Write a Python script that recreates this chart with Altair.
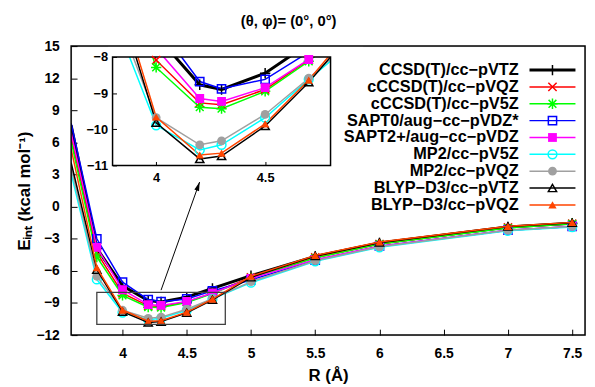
import altair as alt
import pandas as pd

# ---------------- data ----------------
R = [3.6, 3.8, 4.0, 4.2, 4.3, 4.5, 4.7, 5.0, 5.5, 6.0, 7.0, 7.5]

names = [
    "CCSD(T)/cc\u2212pVTZ",
    "cCCSD(T)/cc\u2212pVQZ",
    "cCCSD(T)/cc\u2212pV5Z",
    "SAPT0/aug\u2212cc\u2212pVDZ*",
    "SAPT2+/aug\u2212cc\u2212pVDZ",
    "MP2/cc\u2212pV5Z",
    "MP2/cc\u2212pVQZ",
    "BLYP\u2212D3/cc\u2212pVTZ",
    "BLYP\u2212D3/cc\u2212pVQZ",
]

ccsdt_vtz = [7.6, -3.9, -7.40, -8.77, -8.90, -8.45, -7.63, -6.45, -4.65, -3.40, -1.90, -1.55]
cccsdt_vqz = [6.5, -4.3, -8.09, -9.27, -9.32, -8.90, -8.08, -6.60, -4.75, -3.50, -1.95, -1.60]
cccsdt_v5z = [6.1, -4.7, -8.29, -9.39, -9.43, -8.95, -8.12, -6.65, -4.80, -3.50, -2.00, -1.60]
sapt0_adz = [7.8, -3.0, -7.06, -8.68, -8.88, -8.62, -7.87, -6.85, -5.00, -3.70, -2.20, -1.85]
sapt2p_adz = [6.9, -3.8, -7.76, -9.15, -9.23, -8.85, -8.07, -6.70, -4.95, -3.70, -2.20, -1.85]
mp2_v5z = [3.1, -6.8, -9.89, -10.57, -10.43, -9.68, -8.62, -7.10, -5.10, -3.80, -2.25, -1.90]
mp2_vqz = [3.6, -6.5, -9.68, -10.43, -10.32, -9.59, -8.59, -7.00, -5.05, -3.75, -2.20, -1.85]
blyp_vtz = [4.1, -5.9, -9.82, -10.82, -10.74, -9.91, -8.70, -6.60, -4.60, -3.35, -1.85, -1.50]
blyp_vqz = [5.4, -5.7, -9.66, -10.71, -10.66, -9.85, -8.64, -6.50, -4.55, -3.30, -1.84, -1.47]

series = [ccsdt_vtz, cccsdt_vqz, cccsdt_v5z, sapt0_adz, sapt2p_adz,
          mp2_v5z, mp2_vqz, blyp_vtz, blyp_vqz]

x_ticks = [4, 4.5, 5, 5.5, 6, 6.5, 7, 7.5]
y_ticks = [-12, -9, -6, -3, 0, 3, 6, 9, 12, 15]
inset_x_ticks = [4, 4.5]
inset_y_ticks = [-8, -9, -10, -11]

zoom_box = pd.DataFrame({"R": [3.8], "R2": [4.8], "E": [-11.0], "E2": [-8.0]})
arrow = pd.DataFrame({"R": [4.3], "E": [-7.8], "R2": [4.6], "E2": [2.3]})
mask = pd.DataFrame({"R": [3.78, 4.8], "R2": [4.95, 4.95], "E": [-8.0, -8.6], "E2": [-7.6, -8.0]})

# ---------------- styles ----------------
colors = ["#000000", "#ff0000", "#00ff00", "#0000ff", "#ff00ff",
          "#00ffff", "#a0a0a0", "#000000", "#ff4500"]
widths = [3, 1.5, 1.5, 1.5, 1.5, 1.5, 1.5, 1.5, 1.5]
PLUS = "M-1,0L1,0M0,-1L0,1"
CROSS = "M-0.8,-0.8L0.8,0.8M-0.8,0.8L0.8,-0.8"
STAR = "M-1,0L1,0M0,-1L0,1M-0.75,-0.75L0.75,0.75M-0.75,0.75L0.75,-0.75"
markers = [(PLUS, False, 110), (CROSS, False, 110), (STAR, False, 110),
           ("square", False, 70), ("square", True, 80), ("circle", False, 80),
           ("circle", True, 80), ("triangle-up", False, 70), ("triangle-up", True, 70)]
FONT = "Liberation Sans"

rows = []
for n, vals in zip(names, series):
    for r, e in zip(R, vals):
        rows.append({"name": n, "R": r, "E": e})
df = pd.DataFrame(rows)

W, H = 521, 293

# ---------------- main panel ----------------
x_scale = alt.Scale(domain=[3.6, 7.6], nice=False, zero=False)
y_scale = alt.Scale(domain=[-12, 15], nice=False, zero=False)
x_axis = alt.Axis(values=x_ticks, format="~g", title="R (\u00c5)", domain=False, grid=False,
                  labelOverlap=False,
                  tickSize=alt.ExprRef(expr="-6"), tickColor="black", labelPadding=18,
                  labelFontSize=14, labelFont=FONT, labelFontWeight="bold", labelColor="black",
                  titleFontSize=17, titleFont=FONT, titleFontWeight="bold", titleColor="black",
                  titleY=41, titleBaseline="middle")
y_axis = alt.Axis(values=y_ticks, format="~g", title="E\u1d62\u2099\u209c (kcal mol\u207b\u00b9)",
                  domain=False, grid=False, labelOverlap=False, labelSeparation=0,
                  tickSize=alt.ExprRef(expr="-6"), tickColor="black", labelPadding=18,
                  labelFontSize=14, labelFont=FONT, labelFontWeight="bold", labelColor="black",
                  titleFontSize=17, titleFont=FONT, titleFontWeight="bold", titleColor="black",
                  titleX=-47, titleY=H / 2, titleAngle=270, titleAlign="center",
                  titleBaseline="middle")
x_main = alt.X("R:Q", scale=x_scale, axis=x_axis)
y_main = alt.Y("E:Q", scale=y_scale, axis=y_axis)

main_layers = []
for i, n in enumerate(names):
    d = df[df["name"] == n]
    shape, filled, size = markers[i]
    main_layers.append(alt.Chart(d).mark_line(color=colors[i], strokeWidth=widths[i], clip=True)
                       .encode(x=x_main, y=y_main))
    main_layers.append(alt.Chart(d[d["R"] >= 3.8]).mark_point(
        shape=shape, filled=filled, size=size, color=colors[i], opacity=1,
        strokeWidth=1.5, clip=True).encode(x=x_main, y=y_main))

main_layers.append(alt.Chart(zoom_box).mark_rect(filled=False, stroke="#404040", strokeWidth=1.3)
                   .encode(x=x_main, x2="R2:Q", y=y_main, y2="E2:Q"))
main_layers.append(alt.Chart(arrow).mark_rule(color="black", strokeWidth=1)
                   .encode(x=x_main, y=y_main, x2="R2:Q", y2="E2:Q"))
main_layers.append(alt.Chart(arrow).mark_point(shape="M0,0L-0.5,1.8L0.5,1.8Z", filled=True, size=100,
                                               color="black", opacity=1, angle=19)
                   .encode(x=alt.X("R2:Q", scale=x_scale, axis=x_axis),
                           y=alt.Y("E2:Q", scale=y_scale, axis=y_axis)))
main = alt.layer(*main_layers)

# ---------------- inset ----------------
IX0, IX1, IY0, IY1 = 42, 263, 121, 11
x_in = alt.X("R:Q", scale=alt.Scale(domain=[3.8, 4.8], range=[IX0, IX1], nice=False, zero=False),
             axis=alt.Axis(values=inset_x_ticks, format="~g", title=None, orient="bottom", offset=-(H - IY0),
                           domain=False, grid=False, labelOverlap=False,
                           tickSize=alt.ExprRef(expr="-4"), tickColor="black",
                           labelPadding=10, labelFontSize=13, labelFont=FONT, labelFontWeight="bold",
                           labelColor="black"))
y_in = alt.Y("E:Q", scale=alt.Scale(domain=[-11, -8], range=[IY0, IY1], nice=False, zero=False),
             axis=alt.Axis(values=inset_y_ticks, format="~g", title=None, orient="left", offset=-IX0,
                           domain=False, grid=False, labelOverlap=False,
                           tickSize=alt.ExprRef(expr="-4"), tickColor="black",
                           labelPadding=9, labelFontSize=13, labelFont=FONT, labelFontWeight="bold",
                           labelColor="black"))
inset_layers = []
for i, n in enumerate(names):
    d = df[df["name"] == n]
    inset_layers.append(alt.Chart(d).mark_line(color=colors[i], strokeWidth=widths[i], clip=True)
                        .encode(x=x_in, y=y_in))
inset_layers.append(alt.Chart(mask).mark_rect(color="white", opacity=1)
                    .encode(x=x_in, x2="R2:Q", y=y_in, y2="E2:Q"))
inset_layers.append(alt.Chart(zoom_box).mark_rect(filled=False, stroke="black", strokeWidth=1.5)
                    .encode(x=x_in, x2="R2:Q", y=y_in, y2="E2:Q"))
for i, n in enumerate(names):
    d = df[(df["name"] == n) & (df["R"] >= 3.8) & (df["R"] <= 4.8) & (df["E"] <= -7.95) & (df["E"] >= -11)]
    shape, filled, size = markers[i]
    inset_layers.append(alt.Chart(d).mark_point(
        shape=shape, filled=filled, size=size, color=colors[i], opacity=1,
        strokeWidth=1.5, clip=True).encode(x=x_in, y=y_in))
inset = alt.layer(*inset_layers)

# ---------------- legend ----------------
leg = pd.DataFrame({"name": names})
y_leg = alt.Y("name:N", sort=names, axis=None,
              scale=alt.Scale(type="point", range=[24.3, 161], padding=0))
leg_layers = [alt.Chart(leg).mark_text(align="right", baseline="middle", font=FONT, fontWeight="bold",
                                       fontSize=16.5, color="black")
              .encode(x=alt.value(453.7), y=y_leg, text="name:N")]
for i, n in enumerate(names):
    d = leg[leg["name"] == n]
    shape, filled, size = markers[i]
    leg_layers.append(alt.Chart(d).mark_rule(color=colors[i], strokeWidth=widths[i])
                      .encode(x=alt.value(464.7), x2=alt.value(511.3), y=y_leg))
    leg_layers.append(alt.Chart(d).mark_point(shape=shape, filled=filled, size=size, color=colors[i],
                                              opacity=1, strokeWidth=1.5)
                      .encode(x=alt.value(488), y=y_leg))
# plot frame redrawn on top
leg_layers.append(alt.Chart(leg.head(1)).mark_rect(filled=False, stroke="black", strokeWidth=1.5)
                  .encode(x=alt.value(0), x2=alt.value(W), y=alt.value(0), y2=alt.value(H)))
legend = alt.layer(*leg_layers)

chart = alt.layer(main, inset, legend).resolve_scale(x="independent", y="independent").properties(
    width=W, height=H,
    title=alt.TitleParams("(\u03b8, \u03c6)= (0\u00b0, 0\u00b0)", font=FONT, fontSize=15, fontWeight="bold",
                          color="black", anchor="middle", dx=-40, offset=10),
    autosize=alt.AutoSizeParams(type="none"),
    padding={"left": 64, "top": 36, "right": 2, "bottom": 50},
).configure_view(stroke="black", strokeWidth=1.5).configure_axis(labelOverlap=False).configure(background="white")

chart.save("out.html", embed_options={"renderer": "svg", "actions": False})
